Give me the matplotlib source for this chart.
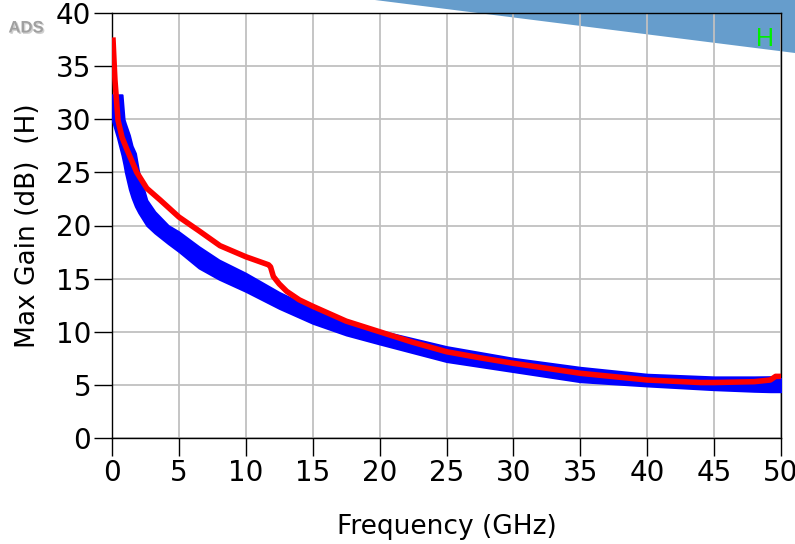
import numpy as np
import matplotlib
matplotlib.use("Agg")
import matplotlib.pyplot as plt
from matplotlib.patches import Polygon
import matplotlib.patheffects as pe

plt.rcParams['font.family'] = ['DejaVu Sans']

# blue band (swept traces): upper / lower envelope, dB
blue_f = [0, 0.4, 0.75, 0.9, 1.0, 1.3, 1.5, 1.75, 2.0, 2.6, 3.2, 4.2, 5, 6.5, 8, 10,
          12.5, 15, 17.5, 20, 25, 30, 35, 40, 45, 48, 49.2, 50]
blue_hi = [32.3, 32.3, 32.3, 30.0, 29.6, 28.5, 27.5, 26.8, 25.0, 22.4, 21.3, 20.0, 19.4,
           18.0, 16.75, 15.5, 13.7, 12.2, 11.0, 10.1, 8.6, 7.5, 6.65, 6.0, 5.75, 5.75, 5.77, 5.6]
blue_lo = [30.0, 28.3, 26.6, 25.7, 25.0, 23.4, 22.6, 21.8, 21.2, 20.0, 19.3, 18.3, 17.55,
           16.0, 14.95, 13.8, 12.2, 10.8, 9.7, 8.85, 7.2, 6.25, 5.3, 4.9, 4.55, 4.4, 4.36, 4.36]

# red trace
red_f = [0.07, 0.15, 0.22, 0.45, 0.75, 1.1, 1.85, 2.6, 3.6, 5, 6.5, 8.07, 10, 11.7, 11.85,
         12.06, 12.5, 13.06, 14, 15, 17.5, 20, 22.5, 25, 27.5, 30, 35, 40, 44, 45, 48,
         49.2, 49.6, 50]
red_db = [37.7, 35.5, 33.7, 29.9, 28.3, 27.2, 25.0, 23.5, 22.4, 20.8, 19.5, 18.1, 17.06,
          16.3, 16.1, 15.2, 14.5, 13.8, 13.0, 12.4, 11.0, 10.0, 9.0, 8.12, 7.55, 7.03, 6.09,
          5.46, 5.22, 5.22, 5.3, 5.46, 5.8, 5.8]

fig = plt.figure(figsize=(7.95, 5.44), dpi=100)
ax = fig.add_axes([112 / 795, 1 - 438 / 544, 669 / 795, 425 / 544])
ax.patch.set_alpha(0)

# shaded region top right (behind the plot)
fig.patches.append(Polygon([[375 / 795, 1], [1, 1], [1, 1 - 53 / 544]], closed=True,
                           transform=fig.transFigure, facecolor='#669dcc',
                           edgecolor='none', zorder=-10))

ax.fill_between(blue_f, blue_lo, blue_hi, color='#0000ff', lw=1.5, zorder=3)
ax.plot(red_f, red_db, color='#ff0000', lw=4, zorder=4, solid_capstyle='butt')

ax.set_xlim(0, 50)
ax.set_ylim(0, 40)
ax.set_xticks(np.arange(0, 51, 5))
ax.set_yticks(np.arange(0, 41, 5))
ax.grid(True, color='#c0c0c0', lw=1.3)
ax.set_axisbelow(True)
ax.tick_params(direction='out', length=13, width=1, labelsize=20, pad=2,
               colors='black')
for s in ax.spines.values():
    s.set_linewidth(1)
    s.set_color('black')

ax.set_xlabel('Frequency (GHz)', fontsize=19, va='center')
ax.set_ylabel('Max Gain (dB)  (H)', fontsize=19, va='center')
ax.xaxis.set_label_coords(0.5, (438 - 527) / 425)
ax.yaxis.set_label_coords((28 - 112) / 669, 0.5)

fig.text(765 / 795, 1 - 39 / 544, 'H', color='#00ee00', fontsize=18,
         ha='center', va='center', zorder=6, family='Liberation Sans')
fig.text(26 / 795, 1 - 28 / 544, 'ADS', color='#a0a0a0', fontsize=12, weight='bold',
         ha='center', va='center', family='Liberation Sans',
         path_effects=[pe.withSimplePatchShadow(offset=(1, -1), shadow_rgbFace='#d0d0d0',
                                                alpha=1.0)])

fig.savefig('out.png', dpi=100)
